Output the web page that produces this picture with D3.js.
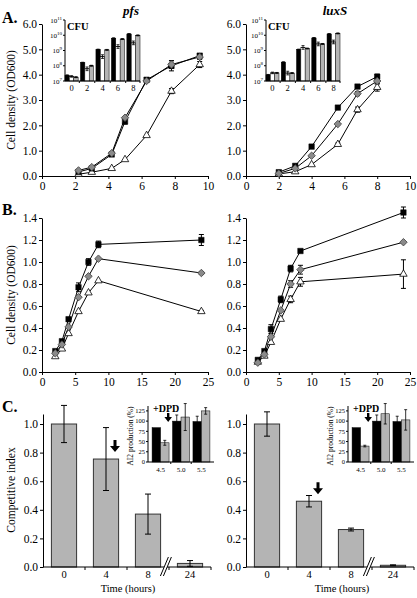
<!DOCTYPE html>
<html><head><meta charset="utf-8">
<script src="https://cdn.jsdelivr.net/npm/d3@7"></script>
<style>
body{margin:0;background:#fff;}
svg{display:block;}
svg text{font-family:"Liberation Serif","Times New Roman",Times,serif;}
</style></head><body>
<script>
// ---------- DATA ----------
// Panel A (OD600 vs time, hours)
const aTimePfs = [2.2, 3.0, 4.2, 5.0, 6.3, 7.8, 9.5];
const aPfsBlack = [0.16, 0.3, 0.85, 2.15, 3.8, 4.35, 4.75];
const aPfsGray  = [0.22, 0.35, 0.9, 2.3, 3.75, 4.4, 4.7];
const aPfsWhite = [0.07, 0.15, 0.3, 0.65, 1.6, 3.35, 4.4];
const aPfsBlackErr = [0, 0, 0, 0.1, 0.08, 0.2, 0.08];
const aPfsGrayErr  = [0, 0, 0, 0, 0, 0.15, 0.1];
const aPfsWhiteErr = [0, 0, 0, 0, 0, 0.1, 0.12];

const aTimeLux = [2.0, 3.0, 4.0, 5.6, 6.8, 8.0];
const aLuxBlack = [0.15, 0.4, 1.16, 2.7, 3.53, 3.92];
const aLuxGray  = [0.1, 0.3, 0.8, 2.05, 3.25, 3.75];
const aLuxWhite = [0.08, 0.17, 0.45, 1.25, 2.62, 3.5];
const aLuxBlackErr = [0, 0, 0, 0, 0, 0.1];
const aLuxGrayErr  = [0, 0, 0, 0, 0.08, 0.12];
const aLuxWhiteErr = [0, 0, 0, 0.05, 0.1, 0.15];

// CFU insets (log10 CFU)
const cfuGroups = ["0", "2", "4", "6", "8"];
const cfuPfsBlack = [7.37, 8.2, 9.06, 9.8, 10.08];
const cfuPfsWhite = [7.3, 7.8, 8.6, 9.26, 9.5];
const cfuPfsGray  = [7.25, 8.0, 9.04, 9.75, 9.99];
const cfuLuxBlack = [7.4, 8.23, 9.06, 9.82, 10.08];
const cfuLuxWhite = [7.53, 7.52, 9.2, 9.43, 9.56];
const cfuLuxGray  = [7.53, 7.52, 9.13, 9.43, 10.12];
const cfuWhiteErr = [0.05, 0.12, 0.12, 0.12, 0.12];
const cfuTickExp = [7, 8, 9, 10, 11];

// Panel B
const bTimePfs = [2, 3, 4, 5.5, 7, 8.5, 24];
const bPfsBlack = [0.19, 0.28, 0.48, 0.77, 1.0, 1.16, 1.2];
const bPfsGray  = [0.17, 0.25, 0.41, 0.68, 0.87, 1.03, 0.9];
const bPfsWhite = [0.14, 0.21, 0.35, 0.55, 0.72, 0.83, 0.55];
const bPfsBlackErr = [0, 0, 0, 0.04, 0.03, 0.03, 0.05];
const bPfsGrayErr  = [0, 0, 0, 0, 0, 0, 0.01];
const bPfsWhiteErr = [0, 0, 0, 0, 0, 0, 0.01];

const bTimeLux = [1.8, 2.8, 3.8, 5.3, 6.8, 8.3, 24];
const bLuxBlack = [0.11, 0.19, 0.39, 0.66, 0.94, 1.1, 1.45];
const bLuxGray  = [0.085, 0.16, 0.32, 0.56, 0.8, 0.93, 1.18];
const bLuxWhite = [0.09, 0.145, 0.27, 0.48, 0.66, 0.82, 0.89];
const bLuxBlackErr = [0, 0, 0.04, 0.03, 0.03, 0, 0.05];
const bLuxGrayErr  = [0, 0, 0, 0, 0.03, 0.04, 0];
const bLuxWhiteErr = [0, 0, 0, 0, 0.03, 0.04, 0.13];

// Panel C (competitive index)
const cTimes = ["0", "4", "8", "24"];
const cPfs = [1.0, 0.755, 0.37, 0.025];
const cPfsErr = [0.13, 0.22, 0.14, 0.02];
const cLux = [1.0, 0.46, 0.262, 0.012];
const cLuxErr = [0.085, 0.04, 0.01, 0.003];

// AI2 production insets (%)
const aiGroups = ["4.5", "5.0", "5.5"];
const aiPfsBlack = [84, 100, 99];
const aiPfsBlackErr = [0, 15, 13];
const aiPfsGray = [47, 110, 125];
const aiPfsGrayErr = [6, 33, 8];
const aiLuxBlack = [84, 100, 99];
const aiLuxBlackErr = [0, 15, 13];
const aiLuxGray = [39, 118, 103];
const aiLuxGrayErr = [2, 25, 25];
const aiTicks = [0, 25, 50, 75, 100, 125];

// ---------- DRAW ----------
const FONT = '"Liberation Serif","Times New Roman",Times,serif';
const GRAYM = "#8a8a8a", GRAYB = "#b4b4b4";
const W = 417, H = 598;
const svg = d3.select("body").append("svg").attr("width", W).attr("height", H)
  .style("font-family", FONT);

function styleAxis(g, fs) {
  g.attr("font-family", null).style("font-family", FONT).attr("font-size", fs);
  g.selectAll("text").attr("fill", "#000").style("font-family", FONT);
  g.selectAll("path.domain, line").attr("stroke", "#000").attr("stroke-width", 1);
}

function text(x, y, s, fs, opts = {}) {
  const t = svg.append("text").attr("x", x).attr("y", y).attr("font-size", fs)
    .style("font-family", FONT)
    .attr("text-anchor", opts.anchor || "start").attr("fill", "#000").text(s);
  if (opts.bold) t.attr("font-weight", "bold");
  if (opts.italic) t.attr("font-style", "italic");
  if (opts.rotate) t.attr("transform", `rotate(-90,${x},${y})`);
  return t;
}

const sym = {
  square: d3.symbol().type(d3.symbolSquare).size(30)(),
  diamond: d3.symbol().type(d3.symbolSquare).size(28)(),
  triangle: d3.symbol().type(d3.symbolTriangle).size(24)()
};

function lineChart(cfg) {
  const x = d3.scaleLinear().domain(cfg.xd).range(cfg.xr);
  const y = d3.scaleLinear().domain(cfg.yd).range(cfg.yr);
  const gx = svg.append("g").attr("transform", `translate(0,${cfg.yr[0]})`)
    .call(d3.axisBottom(x).tickValues(cfg.xt).tickFormat(d3.format("d")).tickSize(3).tickSizeOuter(0).tickPadding(3));
  styleAxis(gx, cfg.fs);
  const gy = svg.append("g").attr("transform", `translate(${cfg.xr[0]},0)`)
    .call(d3.axisLeft(y).tickValues(cfg.yt).tickFormat(d3.format(".1f")).tickSize(3).tickSizeOuter(0).tickPadding(2));
  styleAxis(gy, cfg.fs);
  const line = d3.line().x(d => x(d[0])).y(d => y(d[1]));
  cfg.series.forEach(s => {
    const pts = cfg.times.map((t, i) => [t, s.v[i]]);
    svg.append("path").attr("d", line(pts)).attr("fill", "none").attr("stroke", "#000").attr("stroke-width", 1);
  });
  cfg.series.forEach(s => {
    cfg.times.forEach((t, i) => {
      const e = s.e[i];
      if (!e) return;
      const cx = x(t), y1 = y(s.v[i] + e), y2 = y(s.v[i] - e);
      svg.append("path").attr("d", `M${cx},${y1}V${y2}M${cx - 2.5},${y1}H${cx + 2.5}M${cx - 2.5},${y2}H${cx + 2.5}`)
        .attr("stroke", "#000").attr("stroke-width", 1).attr("fill", "none");
    });
  });
  cfg.series.forEach(s => {
    cfg.times.forEach((t, i) => {
      const p = svg.append("path").attr("d", sym[s.type])
        .attr("transform", `translate(${x(t)},${y(s.v[i])})` + (s.type === "diamond" ? " rotate(45)" : ""))
        .attr("stroke", "#000").attr("stroke-width", s.type === "square" ? 0.5 : 0.8);
      p.attr("fill", s.type === "square" ? "#000" : s.type === "diamond" ? GRAYM : "#fff");
      if (s.type === "diamond") p.attr("stroke", "#444");
    });
  });
}

function cfuInset(x0, x1, black, white, gray) {
  const yTop = 20, yBot = 81;
  const y = d3.scaleLinear().domain([7, 11]).range([yBot, yTop]);
  const xb = d3.scaleBand().domain(cfuGroups).range([x0, x1]).paddingInner(0.15).paddingOuter(0);
  const xs = d3.scaleBand().domain(["b", "w", "g"]).range([0, xb.bandwidth()]);
  cfuGroups.forEach((g, i) => {
    [["b", black, "#000"], ["w", white, "#fff"], ["g", gray, GRAYB]].forEach(([k, arr, col]) => {
      const bx = xb(g) + xs(k);
      svg.append("rect").attr("x", bx).attr("y", y(arr[i])).attr("width", xs.bandwidth())
        .attr("height", yBot - y(arr[i])).attr("fill", col).attr("stroke", "#000").attr("stroke-width", 0.5);
      const e = k === "w" ? cfuWhiteErr[i] : 0.03;
      const cx = bx + xs.bandwidth() / 2;
      svg.append("path").attr("d", `M${cx},${y(arr[i] + e)}V${y(arr[i] - e)}M${cx - 1.5},${y(arr[i] + e)}H${cx + 1.5}M${cx - 1.5},${y(arr[i] - e)}H${cx + 1.5}M${cx - 2},${y(arr[i])}H${cx + 2}`)
        .attr("stroke", "#000").attr("stroke-width", 0.8).attr("fill", "none");
    });
  });
  svg.append("path").attr("d", `M${x0},${yTop}V${yBot}H${x1}`).attr("fill", "none").attr("stroke", "#000").attr("stroke-width", 1);
  cfuTickExp.forEach(e => {
    svg.append("line").attr("x1", x0 - 2).attr("x2", x0).attr("y1", y(e)).attr("y2", y(e)).attr("stroke", "#000");
    const t = svg.append("text").attr("x", x0 - 3).attr("y", y(e) + 2.5).attr("text-anchor", "end")
      .style("font-family", FONT).attr("font-size", 7).attr("fill", "#000");
    t.append("tspan").text("10");
    t.append("tspan").attr("dy", -3).attr("font-size", 5).text(e);
  });
  cfuGroups.forEach((g, i) => {
    const bx = xb(g) - xb.step() * xb.paddingInner() / 2;
    if (i > 0) svg.append("line").attr("x1", bx).attr("x2", bx).attr("y1", yBot).attr("y2", yBot + 2).attr("stroke", "#000");
    text(xb(g) + xb.bandwidth() / 2, yBot + 10, g, 8.5, { anchor: "middle" });
  });
  svg.append("line").attr("x1", x1).attr("x2", x1).attr("y1", yBot).attr("y2", yBot + 2).attr("stroke", "#000");
  text(x0 + 2, 30, "CFU", 10.5, { bold: true });
}

function barChart(x0, x1, vals, errs, labelX) {
  const yBot = 567, yTop = 414;
  const y = d3.scaleLinear().domain([0, 1.07]).range([yBot, yTop]);
  const xb = d3.scaleBand().domain(cTimes).range([x0, x1]).paddingInner(0.4).paddingOuter(0.2);
  cTimes.forEach((c, i) => {
    svg.append("rect").attr("x", xb(c)).attr("y", y(vals[i])).attr("width", xb.bandwidth())
      .attr("height", yBot - y(vals[i])).attr("fill", GRAYB).attr("stroke", "#333").attr("stroke-width", 1);
    const cx = xb(c) + xb.bandwidth() / 2, y1 = y(vals[i] + errs[i]), y2 = y(vals[i] - errs[i]);
    svg.append("path").attr("d", `M${cx},${y1}V${y2}M${cx - 3},${y1}H${cx + 3}M${cx - 3},${y2}H${cx + 3}`)
      .attr("stroke", "#000").attr("stroke-width", 1).attr("fill", "none");
  });
  const gy = svg.append("g").attr("transform", `translate(${x0},0)`)
    .call(d3.axisLeft(y).tickValues([0, 0.2, 0.4, 0.6, 0.8, 1.0]).tickFormat(d3.format(".1f")).tickSize(3).tickSizeOuter(0).tickPadding(2));
  styleAxis(gy, 11.5);
  svg.append("line").attr("x1", x0).attr("x2", x1).attr("y1", yBot).attr("y2", yBot).attr("stroke", "#000");
  cTimes.forEach((c, i) => {
    const bx = xb(c) - xb.step() * xb.paddingInner() / 2;
    if (i > 0) svg.append("line").attr("x1", bx).attr("x2", bx).attr("y1", yBot).attr("y2", yBot + 3).attr("stroke", "#000");
    text(xb(c) + xb.bandwidth() / 2, yBot + 11, c, 10.5, { anchor: "middle" });
  });
  svg.append("line").attr("x1", x1).attr("x2", x1).attr("y1", yBot).attr("y2", yBot + 3).attr("stroke", "#000");
  const bxc = xb("24") - 12;
  svg.append("path").attr("d", `M${bxc - 5},${yBot + 9}L${bxc + 3},${yBot - 10}L${bxc + 6},${yBot - 10}L${bxc - 2},${yBot + 9}Z`)
    .attr("fill", "#fff");
  svg.append("path").attr("d", `M${bxc - 5},${yBot + 9}L${bxc + 3},${yBot - 10}M${bxc - 2},${yBot + 9}L${bxc + 6},${yBot - 10}`)
    .attr("stroke", "#000").attr("stroke-width", 1).attr("fill", "none");
  text(labelX, 592, "Time (hours)", 10.5, { anchor: "middle" });
  const ax = xb("4") + xb.bandwidth() / 2 + 9, ay = y(vals[1]) - 7;
  svg.append("path").attr("d", `M${ax - 1.5},${ay - 12}H${ax + 1.5}V${ay - 6}H${ax + 5}L${ax},${ay}L${ax - 5},${ay - 6}H${ax - 1.5}Z`)
    .attr("fill", "#000");
}

function aiInset(x0, x1, black, blackErr, gray, grayErr) {
  const yBot = 462, yTop = 406;
  const y = d3.scaleLinear().domain([0, 137]).range([yBot, yTop]);
  const xb = d3.scaleBand().domain(aiGroups).range([x0, x1]).paddingInner(0.17).paddingOuter(0.2);
  const xs = d3.scaleBand().domain(["b", "g"]).range([0, xb.bandwidth()]);
  aiGroups.forEach((g, i) => {
    [["b", black, blackErr, "#000"], ["g", gray, grayErr, GRAYB]].forEach(([k, arr, err, col]) => {
      const bx = xb(g) + xs(k);
      svg.append("rect").attr("x", bx).attr("y", y(arr[i])).attr("width", xs.bandwidth())
        .attr("height", yBot - y(arr[i])).attr("fill", col).attr("stroke", "#000").attr("stroke-width", 0.5);
      if (err[i]) {
        const cx = bx + xs.bandwidth() / 2, y1 = y(arr[i] + err[i]), y2 = y(arr[i] - err[i]);
        svg.append("path").attr("d", `M${cx},${y1}V${y2}M${cx - 1.5},${y1}H${cx + 1.5}M${cx - 1.5},${y2}H${cx + 1.5}`)
          .attr("stroke", "#000").attr("stroke-width", 0.8).attr("fill", "none");
      }
    });
  });
  svg.append("path").attr("d", `M${x0},${yTop}V${yBot}H${x1}`).attr("fill", "none").attr("stroke", "#000").attr("stroke-width", 1);
  aiTicks.forEach(v => {
    svg.append("line").attr("x1", x0 - 2).attr("x2", x0).attr("y1", y(v)).attr("y2", y(v)).attr("stroke", "#000");
    text(x0 - 3, y(v) + 2.2, v, 6.5, { anchor: "end" });
  });
  aiGroups.forEach((g, i) => {
    const bx = xb(g) - xb.step() * xb.paddingInner() / 2;
    if (i > 0) svg.append("line").attr("x1", bx).attr("x2", bx).attr("y1", yBot).attr("y2", yBot + 2).attr("stroke", "#000");
    text(xb(g) + xb.bandwidth() / 2, yBot + 10, g, 7, { anchor: "middle" });
  });
  text(x0 - 15, (yTop + yBot) / 2 + 2, "AI2 production (%)", 7.5, { anchor: "middle", rotate: true });
  text(xb(aiGroups[0]) + 1, 412, "+DPD", 10, { bold: true });
  const ax = xb(aiGroups[0]) + xb.bandwidth() * 0.95, ay = 422;
  svg.append("path").attr("d", `M${ax - 1.2},${ay - 9}H${ax + 1.2}V${ay - 5}H${ax + 3.8}L${ax},${ay}L${ax - 3.8},${ay - 5}H${ax - 1.2}Z`)
    .attr("fill", "#000");
}

// Panel A
lineChart({ xr: [42, 208], yr: [176, 24], xd: [0, 10], yd: [0, 6], xt: [0, 2, 4, 6, 8, 10], yt: [0, 1, 2, 3, 4, 5, 6], fs: 11.5,
  times: aTimePfs, series: [
    { v: aPfsWhite, e: aPfsWhiteErr, type: "triangle" },
    { v: aPfsBlack, e: aPfsBlackErr, type: "square" },
    { v: aPfsGray, e: aPfsGrayErr, type: "diamond" }] });
lineChart({ xr: [246, 410], yr: [176, 24], xd: [0, 10], yd: [0, 6], xt: [0, 2, 4, 6, 8, 10], yt: [0, 1, 2, 3, 4, 5, 6], fs: 11.5,
  times: aTimeLux, series: [
    { v: aLuxWhite, e: aLuxWhiteErr, type: "triangle" },
    { v: aLuxBlack, e: aLuxBlackErr, type: "square" },
    { v: aLuxGray, e: aLuxGrayErr, type: "diamond" }] });
cfuInset(65, 140, cfuPfsBlack, cfuPfsWhite, cfuPfsGray);
cfuInset(266, 340, cfuLuxBlack, cfuLuxWhite, cfuLuxGray);

// Panel B
lineChart({ xr: [42, 208], yr: [372, 218], xd: [0, 25], yd: [0, 1.4], xt: [0, 5, 10, 15, 20, 25], yt: [0, 0.2, 0.4, 0.6, 0.8, 1.0, 1.2, 1.4], fs: 11.5,
  times: bTimePfs, series: [
    { v: bPfsWhite, e: bPfsWhiteErr, type: "triangle" },
    { v: bPfsBlack, e: bPfsBlackErr, type: "square" },
    { v: bPfsGray, e: bPfsGrayErr, type: "diamond" }] });
lineChart({ xr: [246, 410], yr: [372, 218], xd: [0, 25], yd: [0, 1.4], xt: [0, 5, 10, 15, 20, 25], yt: [0, 0.2, 0.4, 0.6, 0.8, 1.0, 1.2, 1.4], fs: 11.5,
  times: bTimeLux, series: [
    { v: bLuxWhite, e: bLuxWhiteErr, type: "triangle" },
    { v: bLuxBlack, e: bLuxBlackErr, type: "square" },
    { v: bLuxGray, e: bLuxGrayErr, type: "diamond" }] });

// Panel C
barChart(43, 211, cPfs, cPfsErr, 128);
barChart(246, 414, cLux, cLuxErr, 342);
aiInset(148, 214, aiPfsBlack, aiPfsBlackErr, aiPfsGray, aiPfsGrayErr);
aiInset(348, 414, aiLuxBlack, aiLuxBlackErr, aiLuxGray, aiLuxGrayErr);

// Titles & labels
text(131, 15, "pfs", 13, { anchor: "middle", bold: true, italic: true });
text(335, 15, "luxS", 13, { anchor: "middle", bold: true, italic: true });
text(2, 23, "A.", 16, { bold: true });
text(2, 215, "B.", 16, { bold: true });
text(2, 412, "C.", 16, { bold: true });
text(15, 100, "Cell density (OD600)", 11.5, { anchor: "middle", rotate: true });
text(15, 295, "Cell density (OD600)", 11.5, { anchor: "middle", rotate: true });
text(15, 490, "Competitive index", 11.5, { anchor: "middle", rotate: true });
</script>
</body></html>
